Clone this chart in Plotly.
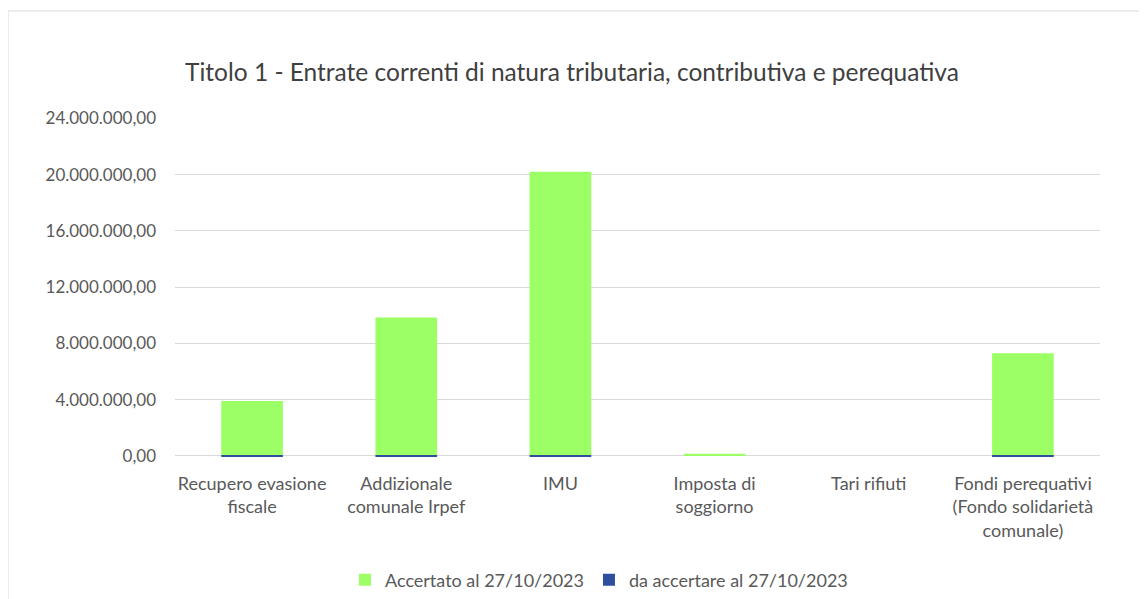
import plotly.graph_objects as go

categories = ["Recupero evasione<br>fiscale", "Addizionale<br>comunale Irpef", "IMU",
              "Imposta di<br>soggiorno", "Tari rifiuti",
              "Fondi perequativi<br>(Fondo solidarietà<br>comunale)"]
accertato = [3900000, 9850000, 20200000, 160000, 0, 7300000]
da_accertare = [-80000, -80000, -80000, 0, 0, -80000]
tick_vals = [0, 4000000, 8000000, 12000000, 16000000, 20000000, 24000000]
tick_text = ["0,00", "4.000.000,00", "8.000.000,00", "12.000.000,00",
             "16.000.000,00", "20.000.000,00", "24.000.000,00"]

FONT = "Lato, Calibri, sans-serif"
GRAY = "#595959"

fig = go.Figure()
fig.add_trace(go.Bar(x=categories, y=accertato, name="Accertato al 27/10/2023",
                     marker=dict(color="#9CFF66", line=dict(width=0))))
fig.add_trace(go.Bar(x=categories, y=da_accertare, name="da accertare al 27/10/2023",
                     marker=dict(color="#2E4F9E", line=dict(width=0))))

# body margin of the page is 8px: work in reference coords minus 8
OFF = 8
W, H = 1147 - OFF, 599 - OFF
L, T = 175 - OFF, 118 - OFF
R = W - (1100 - OFF)
B = H - (457 - OFF)
pw, ph = W - L - R, H - T - B

def px(x):
    return (x - OFF - L) / pw

def py(y):
    return (H - B - (y - OFF)) / ph

fig.update_layout(
    width=W, height=H,
    margin=dict(l=L, r=R, t=T, b=B, autoexpand=False),
    barmode="relative", bargap=0.6,
    paper_bgcolor="white", plot_bgcolor="white",
    font=dict(family=FONT, size=18, color=GRAY),
    title=dict(text="Titolo 1 - Entrate correnti di natura tributaria, contributiva e perequativa",
               x=(572 - OFF) / W, xanchor="center", xref="container",
               y=1 - (72 - OFF) / H, yanchor="middle",
               font=dict(family=FONT, size=24.5, color="#404040")),
    showlegend=True,
    legend=dict(orientation="h", x=px(599), xanchor="center", y=py(580), yanchor="middle",
                font=dict(family=FONT, size=18, color=GRAY), traceorder="normal",
                itemwidth=30),
    xaxis=dict(showgrid=False, showline=False, ticks="", tickfont=dict(size=18, color=GRAY),
               tickangle=0, ticklabelstandoff=14),
    yaxis=dict(range=[-80000, 24030000], tickvals=tick_vals, ticktext=tick_text,
               showgrid=True, gridcolor="#D9D9D9", gridwidth=1, zeroline=True,
               zerolinecolor="#D9D9D9", zerolinewidth=1, showline=False, ticks="",
               ticklabelstandoff=18, tickfont=dict(size=17, color=GRAY)),
    shapes=[
        dict(type="line", xref="paper", yref="paper", x0=px(8), x1=px(1160), y0=py(11), y1=py(11),
             line=dict(color="#D9D9D9", width=1)),
        dict(type="line", xref="paper", yref="paper", x0=px(8), x1=px(8), y0=py(11), y1=py(620),
             line=dict(color="#D9D9D9", width=1)),
    ],
)

fig.write_html("out.html")
